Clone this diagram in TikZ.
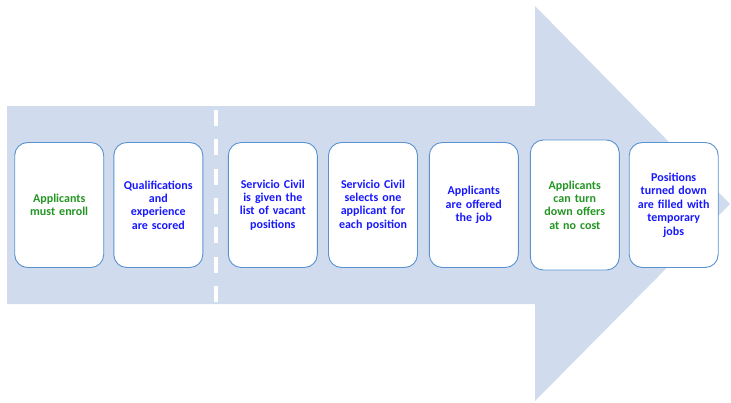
\documentclass[tikz,border=0pt]{standalone}
\usepackage{fontspec}
\setmainfont{Carlito}
\definecolor{arrowfill}{RGB}{208,220,238}
\definecolor{boxline}{RGB}{88,146,208}
\definecolor{txtblue}{RGB}{24,24,255}
\definecolor{txtgreen}{RGB}{34,150,34}
\tikzset{
  stage/.style={draw=boxline, line width=0.9pt, fill=white, rounded corners=13pt,
    minimum width=87pt, minimum height=125pt, inner sep=2pt,
    align=center, text width=85pt, font=\fontsize{12}{13.4}\selectfont\bfseries},
  blue text/.style={text=txtblue},
  green text/.style={text=txtgreen}
}
\begin{document}
\begin{tikzpicture}[x=1pt,y=-1pt]
\useasboundingbox (0,0) rectangle (731,402);
% big process arrow
\fill[arrowfill] (7,106) -- (535,106) -- (535,6) -- (730,204) -- (535,401) -- (535,304) -- (7,304) -- cycle;
% white dashed divider
\coordinate (dtop) at (216,110);
\coordinate (dbot) at (216,303);
\draw[white, line width=4pt, dash pattern=on 16pt off 13.3pt] (dtop) -- (dbot);
% stages
\node[stage, green text] (s1) at (59.2,205) {Applicants\\must enroll};
\node[stage, blue text]  (s2) at (158.3,205) {Qualifications\\and\\experience\\are scored};
\node[stage, blue text]  (s3) at (272.8,205) {Servicio Civil\\is given the\\list of vacant\\positions};
\node[stage, blue text]  (s4) at (373,205) {Servicio Civil\\selects one\\applicant for\\each position};
\node[stage, blue text]  (s5) at (473.8,205) {Applicants\\are offered\\the job};
\node[stage, green text, minimum width=85pt, minimum height=130pt] (s6) at (574.8,205) {Applicants\\can turn\\down offers\\at no cost};
\node[stage, blue text]  (s7) at (673.7,205) {Positions\\turned down\\are filled with\\temporary\\jobs};
\end{tikzpicture}
\end{document}
